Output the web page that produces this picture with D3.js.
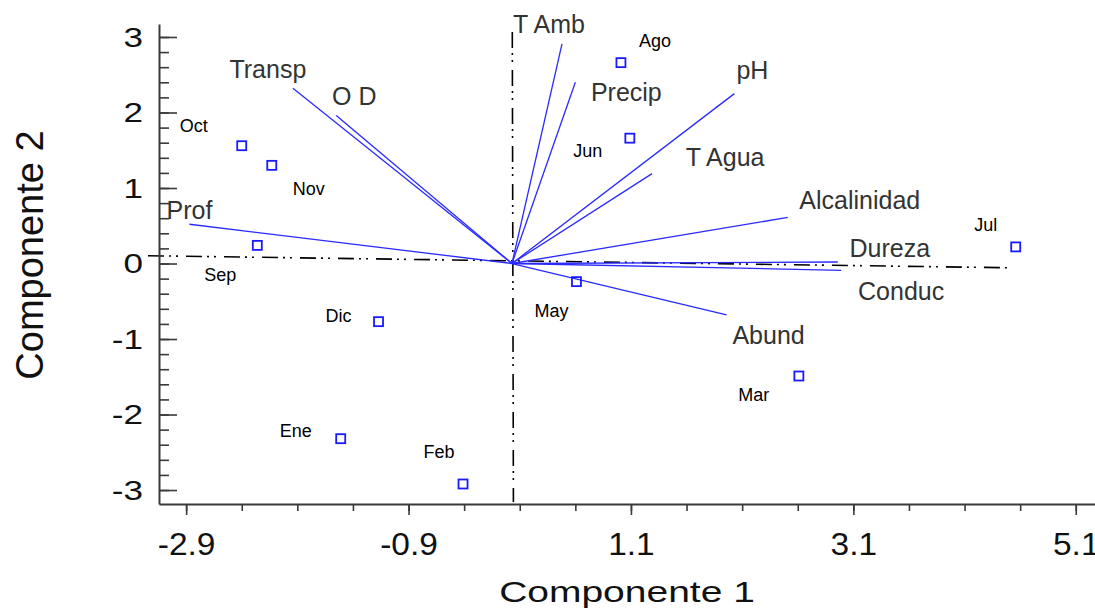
<!DOCTYPE html>
<html>
<head>
<meta charset="utf-8">
<script src="https://d3js.org/d3.v7.min.js"></script>
<style>
  body { margin: 0; background: #fff; }
  text { font-family: "Liberation Sans", Arial, sans-serif; }
</style>
</head>
<body>
<svg id="chart" width="1095" height="613"></svg>
<script>
// sample scores (months)
const months = ["Oct", "Nov", "Sep", "Dic", "Ene", "Feb", "May", "Ago", "Jun", "Jul", "Mar"];
const score1 = [-2.43, -2.16, -2.29, -1.20, -1.54, -0.44, 0.58, 0.98, 1.06, 4.53, 2.58];
const score2 = [1.56, 1.30, 0.24, -0.77, -2.32, -2.92, -0.24, 2.66, 1.66, 0.22, -1.49];

// variable vectors
const variables = ["Transp", "O D", "Prof", "T Amb", "Precip", "pH", "T Agua", "Alcalinidad", "Dureza", "Conduc", "Abund"];
const load1 = [-1.97, -1.58, -2.90, 0.45, 0.57, 2.00, 1.26, 2.48, 2.93, 2.96, 1.93];
const load2 = [2.32, 1.96, 0.52, 2.91, 2.40, 2.25, 1.19, 0.61, 0.02, -0.09, -0.68];

// ticks
const xTicks = [-2.93, -0.93, 1.07, 3.07, 5.07];
const yTicks = [-3, -2, -1, 0, 1, 2, 3];

// label placement (pixel offsets from the mark)
const monthOffset = [[-48, -20], [37, 23], [-37, 29], [-40, -6], [-45, -8], [-24, -32],
                     [-25, 29], [34, -22], [-42, 13], [-30, -22], [-45, 19]];
const varOffset = [[-25, -19], [18, -19], [0, -14], [-13, -20], [51, 10], [18, -23],
                   [73, -16], [72, -17], [52, -14], [60, 21], [42, 20]];

const svg = d3.select("#chart");
const x = d3.scaleLinear().domain([-3.174, 5.243]).range([159, 1095]);
const y = d3.scaleLinear().domain([-3.185, 3.172]).range([504, 24]);
const axisColor = "#3a3a3a";
const hyphen = f => d => f(d).replace("\u2212", "-");

// reference lines (dash-dot-dot)
const refLines = [
  [[-3.273, 0.103], [4.46, -0.056]],
  [[0.003, 3.066], [0.013, -3.159]]
];
svg.selectAll(".ref").data(refLines).enter().append("line")
  .attr("x1", d => x(d[0][0])).attr("y1", d => y(d[0][1]))
  .attr("x2", d => x(d[1][0])).attr("y2", d => y(d[1][1]))
  .attr("stroke", "#000").attr("stroke-width", 1.6)
  .attr("stroke-dasharray", "16,5,2,5,2,8");

// x axis: minor + major
const xMinor = d3.range(-2.93, 5.2, 0.5);
svg.append("g").attr("transform", "translate(0,504)")
  .call(d3.axisBottom(x).tickValues(xMinor).tickSize(7).tickSizeOuter(0).tickFormat(""))
  .call(g => g.select(".domain").attr("stroke", axisColor).attr("stroke-width", 2));
const xg = svg.append("g").attr("transform", "translate(0,504)")
  .call(d3.axisBottom(x).tickValues(xTicks).tickSize(11).tickSizeOuter(0).tickFormat(hyphen(d3.format(".1f"))))
  .call(g => g.select(".domain").remove());
xg.selectAll("text")
  .attr("font-size", 31).attr("fill", "#111")
  .attr("y", 0).attr("dy", "0.35em")
  .attr("transform", "translate(0,40) scale(1.08,1)");

// y axis: minor + major, ticks pointing inward
const yMinor = d3.range(-3, 3.1, 0.2);
svg.append("g").attr("transform", "translate(159,0)")
  .call(d3.axisLeft(y).tickValues(yMinor).tickSize(-10).tickSizeOuter(0).tickFormat(""))
  .call(g => g.select(".domain").attr("stroke", axisColor).attr("stroke-width", 2));
const yg = svg.append("g").attr("transform", "translate(159,0)")
  .call(d3.axisLeft(y).tickValues(yTicks).tickSize(-18).tickSizeOuter(0).tickFormat(hyphen(d3.format("d"))))
  .call(g => g.select(".domain").remove());
yg.selectAll("text")
  .attr("font-size", 27).attr("fill", "#111")
  .attr("x", 0).attr("dy", "0.35em").attr("text-anchor", "end")
  .attr("transform", "translate(-16,0) scale(1.3,1)");
svg.selectAll(".tick line").attr("stroke", axisColor).attr("stroke-width", 1.6);

// axis titles
svg.append("text")
  .attr("transform", "translate(627,602) scale(1.3,1)")
  .attr("text-anchor", "middle").attr("font-size", 30).attr("fill", "#111")
  .text("Componente 1");
svg.append("text")
  .attr("transform", "translate(43,255) rotate(-90)")
  .attr("text-anchor", "middle").attr("font-size", 38).attr("fill", "#111")
  .text("Componente 2");

// vectors
const vecs = variables.map((v, i) => ({ name: v, a: load1[i], b: load2[i], off: varOffset[i] }));
svg.selectAll(".vec").data(vecs).enter().append("line")
  .attr("x1", x(0)).attr("y1", y(0))
  .attr("x2", d => x(d.a)).attr("y2", d => y(d.b))
  .attr("stroke", "#2a2aff").attr("stroke-width", 1.3);
svg.selectAll(".vlab").data(vecs).enter().append("text")
  .attr("x", d => x(d.a) + d.off[0]).attr("y", d => y(d.b) + d.off[1])
  .attr("dy", "0.35em").attr("text-anchor", "middle")
  .attr("font-size", 25).attr("fill", "#333")
  .text(d => d.name);

// sample points
const pts = months.map((m, i) => ({ name: m, a: score1[i], b: score2[i], off: monthOffset[i] }));
svg.selectAll(".pt").data(pts).enter().append("rect")
  .attr("x", d => x(d.a) - 4.5).attr("y", d => y(d.b) - 4.5)
  .attr("width", 9).attr("height", 9)
  .attr("fill", "none").attr("stroke", "#1a1aff").attr("stroke-width", 1.8);
svg.selectAll(".plab").data(pts).enter().append("text")
  .attr("x", d => x(d.a) + d.off[0]).attr("y", d => y(d.b) + d.off[1])
  .attr("dy", "0.35em").attr("text-anchor", "middle")
  .attr("font-size", 18).attr("fill", "#000")
  .text(d => d.name);
</script>
</body>
</html>
